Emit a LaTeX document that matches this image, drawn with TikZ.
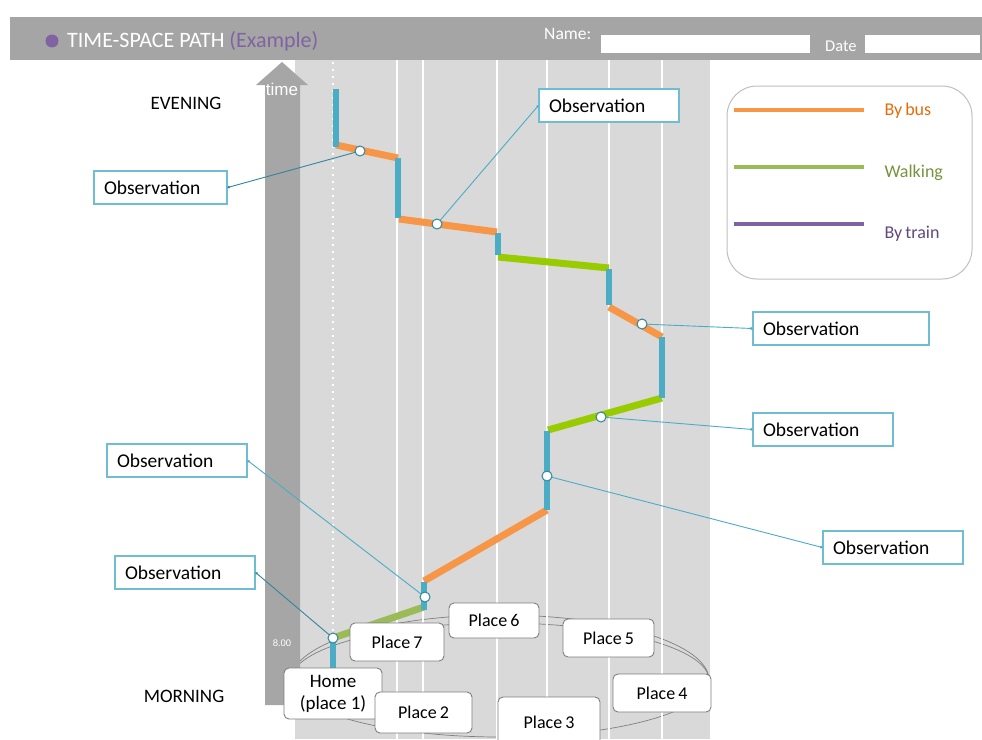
\documentclass[tikz,border=0pt]{standalone}
\usepackage{fontspec}
\setmainfont{Carlito}
\newfontfamily\arialfont{Liberation Sans}
\usetikzlibrary{arrows.meta}
\definecolor{hdrgray}{HTML}{A5A5A5}
\definecolor{bggray}{HTML}{D9D9D9}
\definecolor{arrowgray}{HTML}{A6A6A6}
\definecolor{pathblue}{HTML}{4BACC6}
\definecolor{obsborder}{HTML}{6EBDD2}
\definecolor{busorange}{HTML}{F79646}
\definecolor{walklime}{HTML}{99CC00}
\definecolor{walkolive}{HTML}{9BBB59}
\definecolor{trainpurple}{HTML}{8064A2}
\definecolor{conndark}{HTML}{31859C}
\definecolor{placeborder}{HTML}{7F7F7F}
\definecolor{legendborder}{HTML}{BFBFBF}
\definecolor{busText}{HTML}{E46C0A}
\definecolor{walkText}{HTML}{77933C}
\definecolor{trainText}{HTML}{604A7B}
\tikzset{
  obsbox/.style={draw=obsborder, fill=white, line width=1.2pt, minimum height=33pt,
    inner xsep=10pt, inner ysep=0pt, align=left, font=\fontsize{19.5}{23}\selectfont},
  placebox/.style={draw=placeborder, fill=white, rounded corners=5pt, line width=0.9pt,
    inner sep=0pt, align=center, font=\fontsize{18}{21}\selectfont},
  conn/.style={draw=pathblue, line width=0.9pt, -{Circle[length=2.5pt]}},
  conndk/.style={draw=conndark, line width=0.9pt, -{Circle[length=2.5pt]}},
  obsdot/.style={circle, draw=conndark, fill=white, line width=1pt, minimum size=10pt, inner sep=0pt},
  bluestay/.style={draw=pathblue, line width=6.5pt, line cap=butt},
  busseg/.style={draw=busorange, line width=7pt, line cap=butt},
  limeseg/.style={draw=walklime, line width=7pt, line cap=butt},
  oliveseg/.style={draw=walkolive, line width=7pt, line cap=butt},
  vline/.style={draw=white, line width=2.5pt},
  sidelabel/.style={font=\fontsize{19}{22}\selectfont, text=black},
  legendline/.style={line width=4pt},
  legendtext/.style={anchor=west, font=\fontsize{18}{21}\selectfont}
}
\begin{document}
\begin{tikzpicture}[x=1pt,y=-1pt]
\useasboundingbox (0,0) rectangle (982,739);
\clip (0,0) rectangle (982,739);
\fill[white] (0,0) rectangle (982,739);
% header
\fill[hdrgray] (10,17) rectangle (982,60);
\fill[trainpurple] (52,41) circle (6.5);
\node[anchor=west, text=white, font=\fontsize{22}{26}\selectfont, inner sep=0pt] (title) at (67,41)
  {TIME-SPACE PATH \textcolor{trainpurple}{(Example)}};
\node[anchor=west, text=white, font=\fontsize{17.5}{20}\selectfont, inner sep=0pt] (namelbl) at (544,34) {Name:};
\fill[white] (601,35) rectangle (810,53);
\node[anchor=west, text=white, font=\fontsize{16.5}{19}\selectfont, inner sep=0pt] (datelbl) at (825,46) {Date};
\fill[white] (865,35) rectangle (980,53);
% background field
\fill[bggray] (295,60) rectangle (710,739);
% disk outline
\draw[placeborder, line width=0.7pt] (500,680) ellipse [x radius=209, y radius=57];
\draw[placeborder, line width=0.7pt] (291,680) arc[start angle=180, end angle=0, x radius=209, y radius=-65];
% place lines
\foreach \xx in {397,423,497,547,609,662} \draw[vline] (\xx,60) -- (\xx,739);
\draw[white, line width=2pt, dash pattern=on 2pt off 5pt] (333,62) -- (333,640);
% time arrow
\fill[arrowgray] (265,705) -- (265,85) -- (256,85) -- (282,62) -- (308,85) -- (300,85) -- (300,705) -- cycle;
\node[text=white, font=\arialfont\fontsize{17}{20}\selectfont, inner sep=0pt] (timelbl) at (282,89) {time};
\node[text=white, font=\arialfont\fontsize{9.5}{11}\selectfont, inner sep=0pt] (eight) at (282,643) {8.00};
% side labels
\node[sidelabel] (evening) at (186,103) {EVENING};
\node[sidelabel] (morning) at (184,696) {MORNING};
% legend
\draw[legendborder, line width=1pt, rounded corners=30pt] (727,86) rectangle (972,279);
\draw[legendline, busorange] (734,110) -- (864,110);
\draw[legendline, walkolive] (734,167) -- (864,167);
\draw[legendline, trainpurple] (734,224) -- (864,224);
\node[legendtext, text=busText] (bus) at (881,111) {By\,bus};
\node[legendtext, text=walkText] (walk) at (881,173) {Walking};
\node[legendtext, text=trainText] (train) at (881,234) {By\,train};
% path coordinates
\coordinate (A) at (336,89);   \coordinate (B) at (336,147);
\coordinate (Bo) at (336,145); \coordinate (C) at (398,158);
\coordinate (C1) at (398,158); \coordinate (D) at (398,218);
\coordinate (D1) at (399,219); \coordinate (E) at (497,232);
\coordinate (E1) at (498,233); \coordinate (F) at (498,255);
\coordinate (F1) at (498,257); \coordinate (G) at (609,268);
\coordinate (G1) at (609,269); \coordinate (H) at (609,305);
\coordinate (H1) at (609,307); \coordinate (I) at (662,337);
\coordinate (I1) at (662,337); \coordinate (J) at (662,398);
\coordinate (J1) at (662,398); \coordinate (K) at (548,430);
\coordinate (K1) at (547,431); \coordinate (L) at (547,510);
\coordinate (L1) at (547,510); \coordinate (M) at (424,581);
\coordinate (M1) at (424,582); \coordinate (N) at (424,610);
\coordinate (N1) at (424,607); \coordinate (O) at (333,638);
\coordinate (O1) at (333,638); \coordinate (P) at (333,670);
\draw[busseg] (Bo) -- (C);
\draw[busseg] (D1) -- (E);
\draw[limeseg] (F1) -- (G);
\draw[busseg] (H1) -- (I);
\draw[limeseg] (J1) -- (K);
\draw[busseg] (L1) -- (M);
\draw[oliveseg] (N1) -- (O);
\draw[bluestay] (A) -- (B);
\draw[bluestay] (C1) -- (D);
\draw[bluestay] (E1) -- (F);
\draw[bluestay] (G1) -- (H);
\draw[bluestay] (I1) -- (J);
\draw[bluestay] (K1) -- (L);
\draw[bluestay] (M1) -- (N);
\draw[bluestay] (O1) -- (P);
% observation points
\coordinate (c1) at (360,151);
\coordinate (c2) at (437,224);
\coordinate (c3) at (642,324);
\coordinate (c4) at (601,417);
\coordinate (c5) at (547,476);
\coordinate (c6) at (425,597);
\coordinate (c7) at (333,638);
% observation boxes
\node[obsbox, text width=113pt] (o1) at (160.5,187.5) {Observation};
\node[obsbox, text width=120pt] (o2) at (609,105.5) {Observation};
\node[obsbox, text width=156pt] (o3) at (841,328.5) {Observation};
\node[obsbox, text width=120pt] (o4) at (823,429.5) {Observation};
\node[obsbox, text width=120pt] (o5) at (893,547.5) {Observation};
\node[obsbox, text width=120pt] (o6) at (177,460.5) {Observation};
\node[obsbox, text width=120pt] (o7) at (185,572.5) {Observation};
\draw[conndk] (c1) -- (o1.east);
\draw[conn] (c2) -- (o2.west);
\draw[conn] (c3) -- (o3.west);
\draw[conn] (c4) -- (o4.west);
\draw[conn] (c5) -- (o5.west);
\draw[conn] (c6) -- (o6.east);
\draw[conndk] (c7) -- (o7.east);
\foreach \cc in {c1,c2,c3,c4,c5,c6,c7} \node[obsdot] (dot-\cc) at (\cc) {};
% places
\node[placebox, minimum width=94pt, minimum height=38pt] (place7) at (397,642) {Place\,7};
\node[placebox, minimum width=90pt, minimum height=35pt] (place6) at (494,620.5) {Place\,6};
\node[placebox, minimum width=91pt, minimum height=38pt] (place5) at (608.5,638) {Place\,5};
\node[placebox, minimum width=98pt, minimum height=51pt, font=\fontsize{19}{22}\selectfont] (home) at (333,693.5) {Home\\(place 1)};
\node[placebox, minimum width=97pt, minimum height=41pt] (place2) at (423.5,712.5) {Place\,2};
\node[placebox, minimum width=98pt, minimum height=38pt] (place4) at (662,693) {Place\,4};
\node[placebox, minimum width=102pt, minimum height=50pt] (place3) at (549,722) {Place\,3};
\end{tikzpicture}
\end{document}
